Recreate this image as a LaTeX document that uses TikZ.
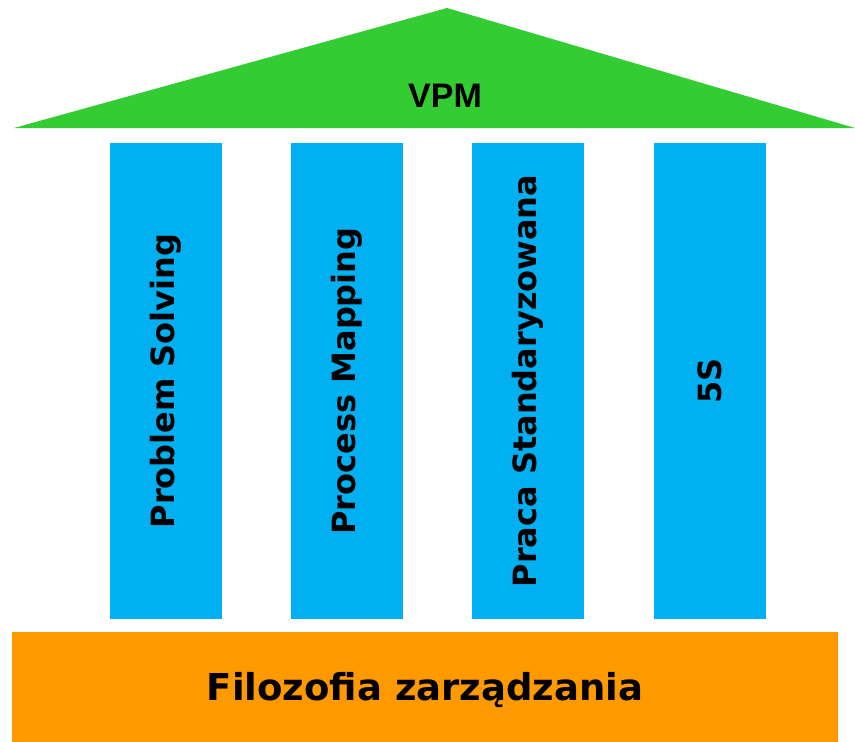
\documentclass[tikz,border=0pt]{standalone}
\usepackage{fontspec}
\setmainfont{DejaVu Sans}
\newfontfamily\arialfont{Liberation Sans}
\usetikzlibrary{positioning}
\definecolor{roofgreen}{HTML}{33CC33}
\definecolor{pillarblue}{HTML}{00B0F0}
\definecolor{baseorange}{HTML}{FF9900}

\begin{document}
\begin{tikzpicture}[x=1pt, y=-1pt]
  \tikzstyle{pillar}=[rectangle, fill=pillarblue, rotate=90, inner sep=0pt,
                      minimum width=476pt, minimum height=112pt,
                      font=\bfseries\fontsize{32}{36}\selectfont]
  \tikzstyle{basebox}=[rectangle, fill=baseorange, inner sep=0pt,
                      minimum width=826pt, minimum height=110pt]
  \tikzstyle{basetxt}=[font=\bfseries\fontsize{37}{40}\selectfont]
  \tikzstyle{rooftxt}=[font=\arialfont\bfseries\fontsize{34}{38}\selectfont]

  \useasboundingbox (0,0) rectangle (855,742);

  % roof
  \coordinate (rl) at (14,128);
  \coordinate (rt) at (447,8);
  \coordinate (rr) at (855,128);
  \fill[roofgreen] (rl) -- (rt) -- (rr) -- cycle;
  \node[rooftxt] (vpm) at (445,96) {VPM};

  % pillars
  \node[pillar] (ps) at (166,381) {Problem Solving};
  \node[pillar] (pm) at (347,381) {Process Mapping};
  \node[pillar] (pst) at (528,381) {Praca Standaryzowana};
  \node[pillar] (fives) at (710,381) {5S};

  % base
  \node[basebox] (base) at (425,687) {};
  \node[basetxt] (basetext) at (425,690) {Filozofia zarządzania};
\end{tikzpicture}
\end{document}
